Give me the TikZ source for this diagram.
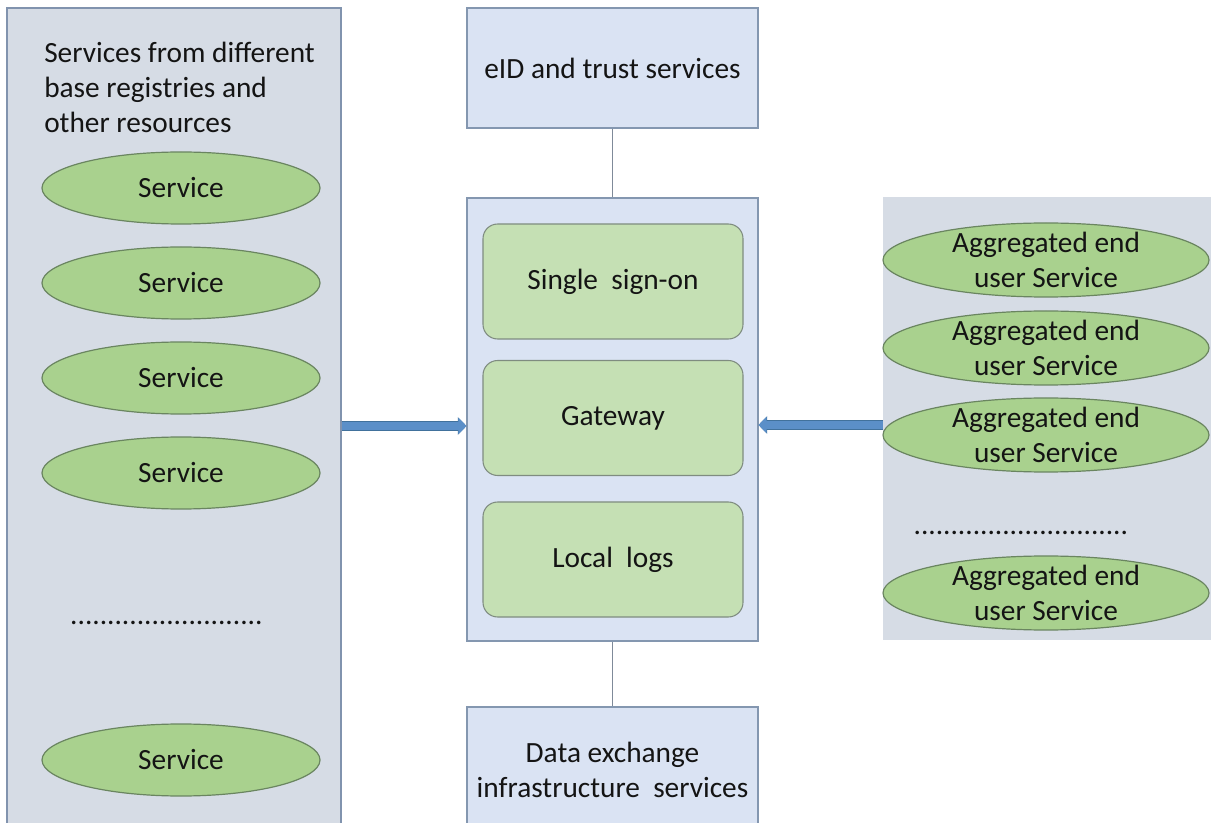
\documentclass[tikz,border=0pt]{standalone}
\usepackage{fontspec}
\setmainfont{Carlito}
\usetikzlibrary{shapes.geometric,arrows.meta}

\definecolor{panelfill}{HTML}{D6DCE5}
\definecolor{panelline}{HTML}{8193AE}
\definecolor{boxfill}{HTML}{DAE3F3}
\definecolor{boxline}{HTML}{8497B0}
\definecolor{innerfill}{HTML}{C5E0B4}
\definecolor{innerline}{HTML}{7F8C80}
\definecolor{ovalfill}{HTML}{A9D18E}
\definecolor{ovalline}{HTML}{6A8560}
\definecolor{linkgray}{HTML}{7F8A99}
\definecolor{flowblue}{HTML}{5B8FC8}
\definecolor{flowedge}{HTML}{41719C}
\definecolor{txt}{HTML}{141414}

\begin{document}
\begin{tikzpicture}[x=0.75pt,y=-0.75pt,
  every node/.style={font=\fontsize{22}{26.25}\selectfont, text=txt},
  panel/.style={rectangle, draw=panelline, fill=panelfill, line width=0.8pt, inner sep=0pt},
  sidepanel/.style={rectangle, fill=panelfill, inner sep=0pt},
  svc/.style={ellipse, draw=ovalline, fill=ovalfill, line width=0.9pt,
    minimum width=208.5pt, minimum height=54pt, inner sep=0pt},
  agg/.style={ellipse, draw=ovalline, fill=ovalfill, line width=0.9pt,
    minimum width=244.5pt, minimum height=55.5pt, inner sep=0pt},
  infobox/.style={rectangle, draw=boxline, fill=boxfill, line width=0.8pt,
    minimum width=218.25pt, align=center, inner sep=0pt},
  module/.style={rectangle, rounded corners=11pt, draw=innerline, fill=innerfill,
    line width=0.8pt, minimum width=195pt, minimum height=86.25pt, inner sep=0pt},
  link/.style={draw=linkgray, line width=0.8pt},
  flow/.style={draw=flowblue, line width=6pt,
    -{Triangle[length=6pt,width=12pt,fill=flowblue]},
    preaction={draw=flowedge, line width=7pt, -{Triangle[length=6.5pt,width=13pt,fill=flowedge]}}},
  dotrow/.style={inner sep=0pt}
]
\clip (0,0) rectangle (1211,823);
\fill[white] (0,0) rectangle (1211,823);

% left column: base registry services
\node[panel, minimum width=250.5pt, minimum height=624pt] (lp) at (174,424) {};
\node[anchor=west, align=left, inner sep=0pt] (lphead) at (44,87)
  {Services from different\\base registries and\\other resources};
\node[svc] (s1) at (181,188) {Service};
\node[svc] (s2) at (181,283) {Service};
\node[svc] (s3) at (181,378) {Service};
\node[svc] (s4) at (181,473) {Service};
\node[dotrow] (ldots) at (166.5,623) {..........................};
\node[svc] (s5) at (181,760) {Service};

% centre column
\node[infobox, minimum height=90pt] (eid) at (612.5,68) {eID and trust services};
\node[infobox, minimum height=332.25pt] (cb) at (612.5,419.5) {};
\node[module] (sso) at (613,281.5) {Single\ \ sign-on};
\node[module] (gw) at (613,418) {Gateway};
\node[module] (logs) at (613,559.5) {Local\ \ logs};
\node[infobox, minimum height=93.75pt] (dx) at (612.5,769.5)
  {Data exchange\\infrastructure\ \ services};

\draw[link] (eid.south) -- (cb.north);
\draw[link] (cb.south) -- (dx.north);

% right column: aggregated end user services
\node[sidepanel, minimum width=252.75pt, minimum height=332.25pt] (rp) at (1051.5,418.5) {};
\node[agg, label={[align=center]center:Aggregated end\\user Service}] (a1) at (1046,260) {};
\node[agg, label={[align=center]center:Aggregated end\\user Service}] (a2) at (1046,348) {};
\node[agg, label={[align=center]center:Aggregated end\\user Service}] (a3) at (1046,435) {};
\node[dotrow] (rdots) at (1021,533) {.............................};
\node[agg, label={[align=center]center:Aggregated end\\user Service}] (a4) at (1046,593) {};

% data flows into the gateway
\coordinate (lrow) at (0,426);
\coordinate (rrow) at (0,425);
\draw[flow] (lp.east |- lrow) -- (cb.west |- lrow);
\draw[flow] (rp.west |- rrow) -- (cb.east |- rrow);
\end{tikzpicture}
\end{document}
